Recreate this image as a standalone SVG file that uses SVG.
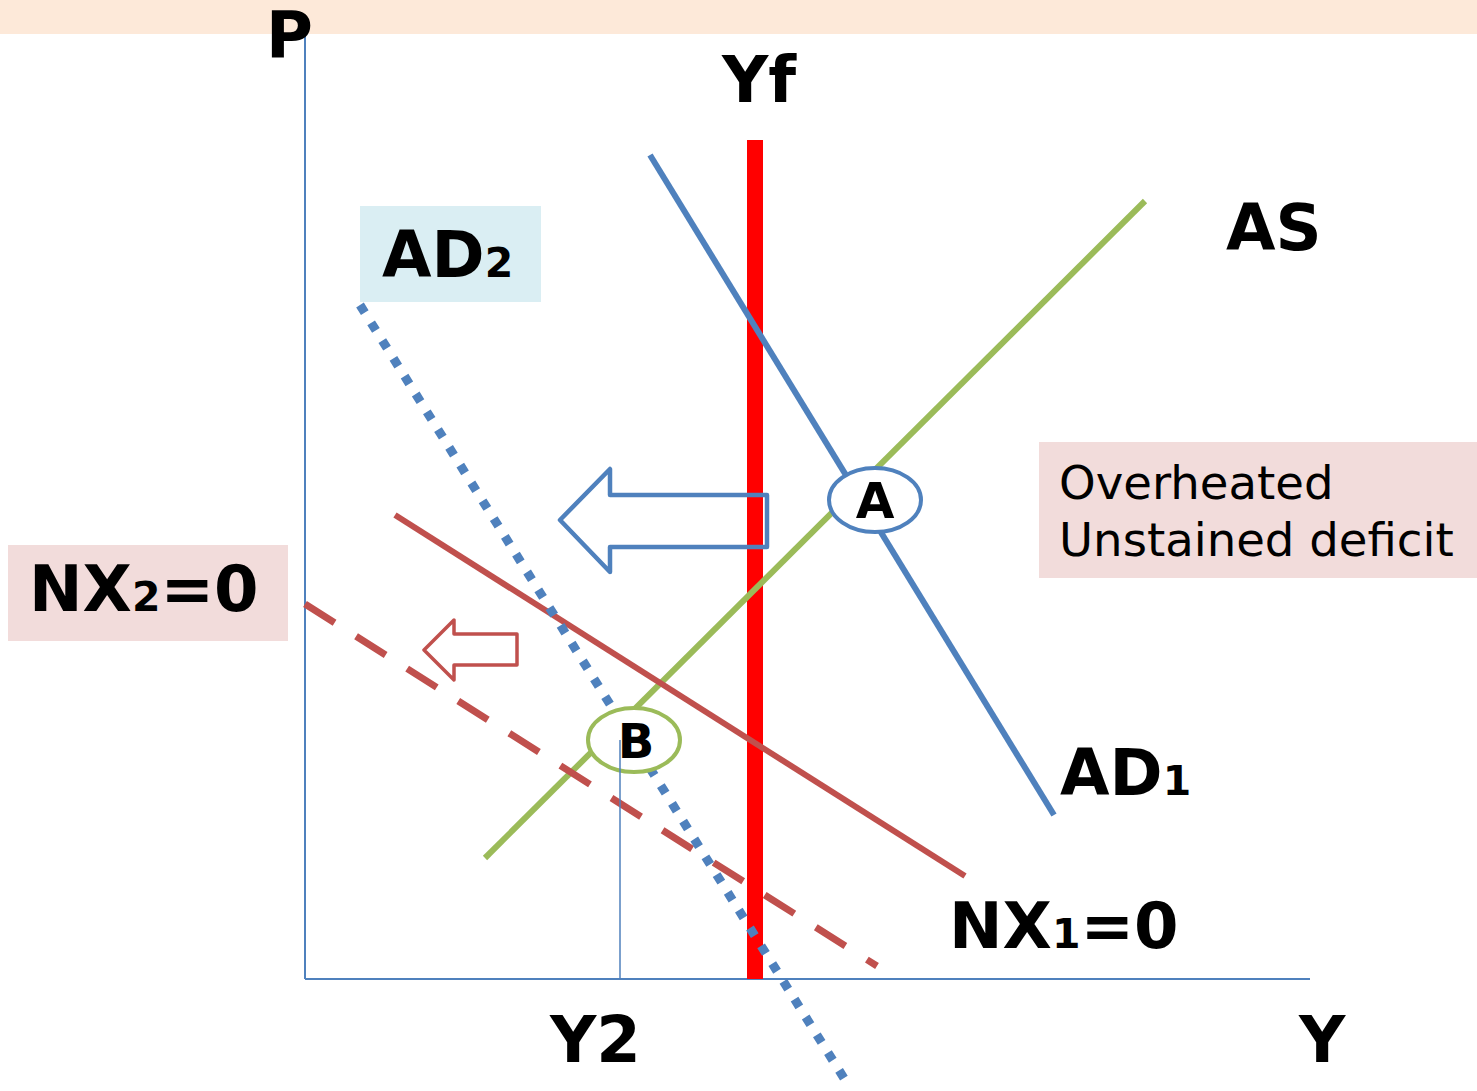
<svg xmlns="http://www.w3.org/2000/svg" width="1477" height="1091" viewBox="0 0 1477 1091">
<style>
.b{font-family:"DejaVu Sans",Verdana,sans-serif;font-weight:bold;font-size:64px;fill:#000}
.s{font-size:41px}
.n{font-family:"DejaVu Sans",Verdana,sans-serif;font-size:46.6px;fill:#000}
.blue{stroke:#4F81BD;fill:none}
.red{stroke:#C0504D;fill:none}
</style>
<rect x="0" y="0" width="1477" height="34" fill="#FDE9D9"/>
<g id="label-boxes">
<rect x="360" y="206" width="181" height="96" fill="#DAEEF3"/>
<rect x="8" y="545" width="280" height="96" fill="#F2DCDB"/>
<rect x="1039" y="442" width="438" height="136" fill="#F2DCDB"/>
</g>
<g id="axes">
<line x1="305" y1="34" x2="305" y2="979" class="blue" stroke-width="2"/>
<line x1="305" y1="979" x2="1310" y2="979" class="blue" stroke-width="2"/>
</g>
<g id="connectors">
<line id="Yf-line" x1="755" y1="140" x2="755" y2="979" stroke="#FF0000" stroke-width="16"/>
<line id="AD1" x1="650" y1="155" x2="1054" y2="815" class="blue" stroke-width="6"/>
<line id="AS" x1="485" y1="858" x2="1145" y2="201" stroke="#9BBB59" stroke-width="6"/>
<line id="NX1" x1="395" y1="515" x2="965" y2="876" class="red" stroke-width="6"/>
<line id="NX2" x1="305" y1="604" x2="877" y2="966" class="red" stroke-width="7" stroke-dasharray="35 25.45"/>
<line id="AD2" x1="360" y1="305" x2="847" y2="1083" class="blue" stroke-width="9" stroke-dasharray="9 12"/>
<polygon id="big-arrow" points="560,520 610,469 610,495 767,495 767,547 610,547 610,572" class="blue" stroke-width="4.5" stroke-linejoin="round"/>
<polygon id="small-arrow" points="424,650 454,620 454,634 517,634 517,665 454,665 454,680" class="red" stroke-width="3.5" stroke-linejoin="round"/>
</g>
<g id="A">
<ellipse cx="875" cy="500" rx="46" ry="32" fill="#fff" stroke="#4F81BD" stroke-width="4"/>
<text x="875" y="518" class="b" style="font-size:50px" text-anchor="middle">A</text>
</g>
<g id="B">
<ellipse cx="634" cy="740" rx="46" ry="32" fill="#fff" stroke="#9BBB59" stroke-width="4"/>
<text x="636" y="758" class="b" style="font-size:48px" text-anchor="middle">B</text>
<line x1="620" y1="740" x2="620" y2="979" class="blue" stroke-width="1.5"/>
</g>
<g id="labels">
<text x="266" y="57" class="b">P</text>
<text x="722" y="102" class="b">Yf</text>
<text x="1226" y="250" class="b">AS</text>
<text x="382" y="277" class="b">AD<tspan class="s">2</tspan></text>
<text x="1060" y="795" class="b">AD<tspan class="s">1</tspan></text>
<text x="949" y="948" class="b">NX<tspan class="s">1</tspan>=0</text>
<text x="29" y="611" class="b">NX<tspan class="s">2</tspan>=0</text>
<text x="550" y="1062" class="b">Y2</text>
<text x="1299" y="1062" class="b">Y</text>
<text x="1059" y="499" class="n">Overheated</text>
<text x="1059" y="556" class="n">Unstained deficit</text>
</g>
</svg>
